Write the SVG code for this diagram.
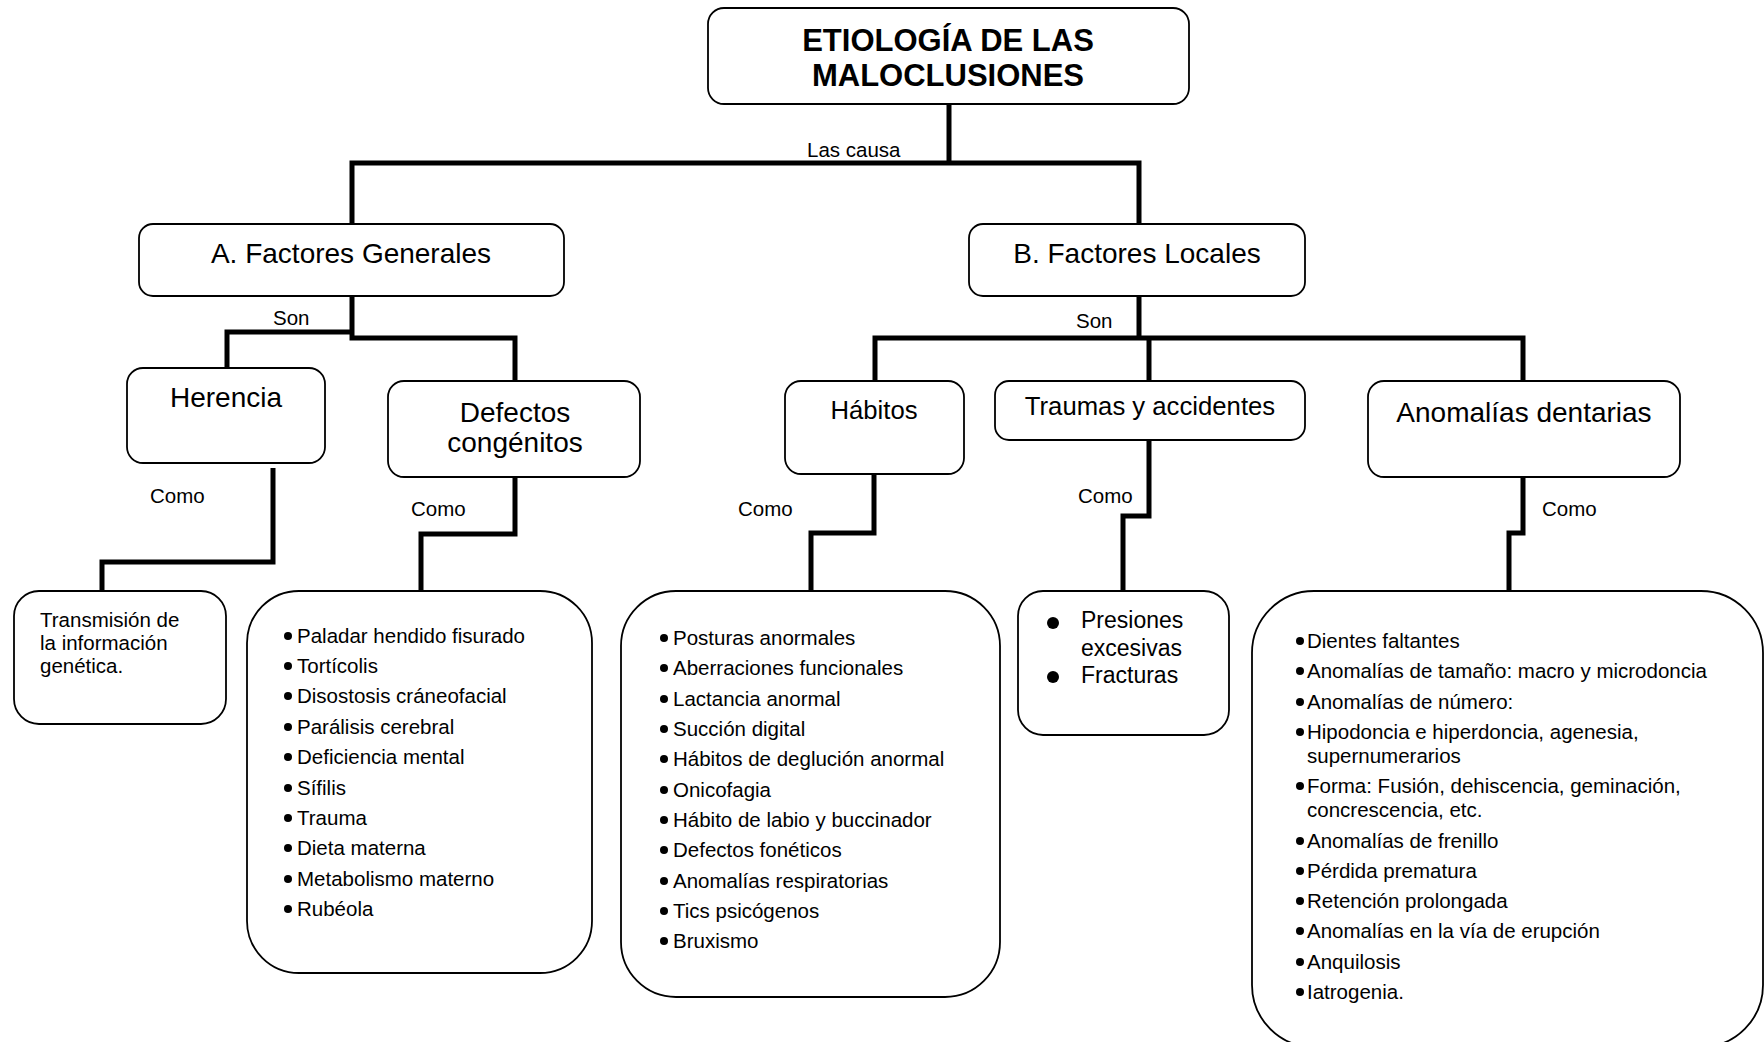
<svg xmlns="http://www.w3.org/2000/svg" width="1764" height="1042" viewBox="0 0 1764 1042">
<style>
.box{fill:#fff;stroke:#000;stroke-width:1.8}
.con{fill:none;stroke:#000;stroke-width:5;stroke-linejoin:miter;stroke-linecap:butt}
text{font-family:"Liberation Sans",Arial,sans-serif;fill:#000}
.t28{font-size:28px;text-anchor:middle}
.t26{font-size:25.7px;text-anchor:middle}
.lbl{font-size:20.5px}
.li{font-size:20.5px}
.title{font-size:31px;font-weight:bold;text-anchor:middle}
</style>
<rect width="1764" height="1042" fill="#fff"/>
<g id="connectors">
<path class="con" d="M949,104 V163"/>
<path class="con" d="M352,224 V163 H1139 V224"/>
<path class="con" d="M352,296 V338 H515 V382"/>
<path class="con" d="M227,368 V332 H352"/>
<path class="con" d="M1139,296 V338"/>
<path class="con" d="M875,381 V338 H1523 V381"/>
<path class="con" d="M1149,338 V381"/>
<path class="con" d="M273,468 V562 H102 V593"/>
<path class="con" d="M515,477 V534 H421 V591"/>
<path class="con" d="M874,474 V533 H811 V591"/>
<path class="con" d="M1149,440 V516 H1123 V591"/>
<path class="con" d="M1523,477 V533 H1509 V591"/>
<text class="lbl" x="807" y="157">Las causa</text>
<text class="lbl" x="273" y="325">Son</text>
<text class="lbl" x="1076" y="328">Son</text>
<text class="lbl" x="150" y="503">Como</text>
<text class="lbl" x="411" y="516">Como</text>
<text class="lbl" x="738" y="516">Como</text>
<text class="lbl" x="1078" y="503">Como</text>
<text class="lbl" x="1542" y="516">Como</text>
</g>
<g id="title">
<rect class="box" x="708" y="8" width="481" height="96" rx="16"/>
<text class="title" x="948" y="51">ETIOLOGÍA DE LAS</text>
<text class="title" x="948" y="86">MALOCLUSIONES</text>
</g>
<g id="factores-generales">
<rect class="box" x="139" y="224" width="425" height="72" rx="14"/>
<text class="t28" x="351" y="263">A. Factores Generales</text>
</g>
<g id="factores-locales">
<rect class="box" x="969" y="224" width="336" height="72" rx="14"/>
<text class="t28" x="1137" y="263">B. Factores Locales</text>
</g>
<g id="herencia">
<rect class="box" x="127" y="368" width="198" height="95" rx="16"/>
<text class="t28" x="226" y="407">Herencia</text>
</g>
<g id="defectos">
<rect class="box" x="388" y="381" width="252" height="96" rx="16"/>
<text class="t28" x="515" y="422">Defectos</text>
<text class="t28" x="515" y="452">congénitos</text>
</g>
<g id="habitos">
<rect class="box" x="785" y="381" width="179" height="93" rx="16"/>
<text class="t26" x="874" y="419">Hábitos</text>
</g>
<g id="traumas">
<rect class="box" x="995" y="381" width="310" height="59" rx="14"/>
<text class="t26" x="1150" y="415">Traumas y accidentes</text>
</g>
<g id="anomalias">
<rect class="box" x="1368" y="381" width="312" height="96" rx="16"/>
<text class="t28" x="1524" y="422">Anomalías dentarias</text>
</g>
<g id="transmision">
<rect class="box" x="14" y="591" width="212" height="133" rx="25"/>
<text class="li" x="40" y="627">Transmisión de</text>
<text class="li" x="40" y="650">la información</text>
<text class="li" x="40" y="673">genética.</text>
</g>
<g id="lista-defectos">
<rect class="box" x="247" y="591" width="345" height="382" rx="52"/>
<g fill="#000">
<circle cx="288" cy="636" r="4"/><circle cx="288" cy="666" r="4"/><circle cx="288" cy="696" r="4"/><circle cx="288" cy="727" r="4"/><circle cx="288" cy="757" r="4"/><circle cx="288" cy="788" r="4"/><circle cx="288" cy="818" r="4"/><circle cx="288" cy="848" r="4"/><circle cx="288" cy="879" r="4"/><circle cx="288" cy="909" r="4"/>
</g>
<text class="li" x="297" y="643">Paladar hendido fisurado</text>
<text class="li" x="297" y="673">Tortícolis</text>
<text class="li" x="297" y="703">Disostosis cráneofacial</text>
<text class="li" x="297" y="734">Parálisis cerebral</text>
<text class="li" x="297" y="764">Deficiencia mental</text>
<text class="li" x="297" y="795">Sífilis</text>
<text class="li" x="297" y="825">Trauma</text>
<text class="li" x="297" y="855">Dieta materna</text>
<text class="li" x="297" y="886">Metabolismo materno</text>
<text class="li" x="297" y="916">Rubéola</text>
</g>
<g id="lista-habitos">
<rect class="box" x="621" y="591" width="379" height="406" rx="55"/>
<g fill="#000">
<circle cx="664" cy="638" r="4"/><circle cx="664" cy="668" r="4"/><circle cx="664" cy="699" r="4"/><circle cx="664" cy="729" r="4"/><circle cx="664" cy="759" r="4"/><circle cx="664" cy="790" r="4"/><circle cx="664" cy="820" r="4"/><circle cx="664" cy="850" r="4"/><circle cx="664" cy="881" r="4"/><circle cx="664" cy="911" r="4"/><circle cx="664" cy="941" r="4"/>
</g>
<text class="li" x="673" y="645">Posturas anormales</text>
<text class="li" x="673" y="675">Aberraciones funcionales</text>
<text class="li" x="673" y="706">Lactancia anormal</text>
<text class="li" x="673" y="736">Succión digital</text>
<text class="li" x="673" y="766">Hábitos de deglución anormal</text>
<text class="li" x="673" y="797">Onicofagia</text>
<text class="li" x="673" y="827">Hábito de labio y buccinador</text>
<text class="li" x="673" y="857">Defectos fonéticos</text>
<text class="li" x="673" y="888">Anomalías respiratorias</text>
<text class="li" x="673" y="918">Tics psicógenos</text>
<text class="li" x="673" y="948">Bruxismo</text>
</g>
<g id="lista-traumas">
<rect class="box" x="1018" y="591" width="211" height="144" rx="25"/>
<circle cx="1053" cy="623" r="6" fill="#000"/>
<circle cx="1053" cy="677" r="6" fill="#000"/>
<text x="1081" y="628" font-size="23px">Presiones</text>
<text x="1081" y="656" font-size="23px">excesivas</text>
<text x="1081" y="683" font-size="23px">Fracturas</text>
</g>
<g id="lista-anomalias">
<rect class="box" x="1252" y="591" width="511" height="456" rx="62"/>
<g fill="#000">
<circle cx="1300" cy="641" r="4"/><circle cx="1300" cy="671" r="4"/><circle cx="1300" cy="702" r="4"/><circle cx="1300" cy="732" r="4"/><circle cx="1300" cy="786" r="4"/><circle cx="1300" cy="841" r="4"/><circle cx="1300" cy="871" r="4"/><circle cx="1300" cy="901" r="4"/><circle cx="1300" cy="931" r="4"/><circle cx="1300" cy="962" r="4"/><circle cx="1300" cy="992" r="4"/>
</g>
<text class="li" x="1307" y="648">Dientes faltantes</text>
<text class="li" x="1307" y="678">Anomalías de tamaño: macro y microdoncia</text>
<text class="li" x="1307" y="709">Anomalías de número:</text>
<text class="li" x="1307" y="739">Hipodoncia e hiperdoncia, agenesia,</text>
<text class="li" x="1307" y="763">supernumerarios</text>
<text class="li" x="1307" y="793">Forma: Fusión, dehiscencia, geminación,</text>
<text class="li" x="1307" y="817">concrescencia, etc.</text>
<text class="li" x="1307" y="848">Anomalías de frenillo</text>
<text class="li" x="1307" y="878">Pérdida prematura</text>
<text class="li" x="1307" y="908">Retención prolongada</text>
<text class="li" x="1307" y="938">Anomalías en la vía de erupción</text>
<text class="li" x="1307" y="969">Anquilosis</text>
<text class="li" x="1307" y="999">Iatrogenia.</text>
</g>
</svg>
